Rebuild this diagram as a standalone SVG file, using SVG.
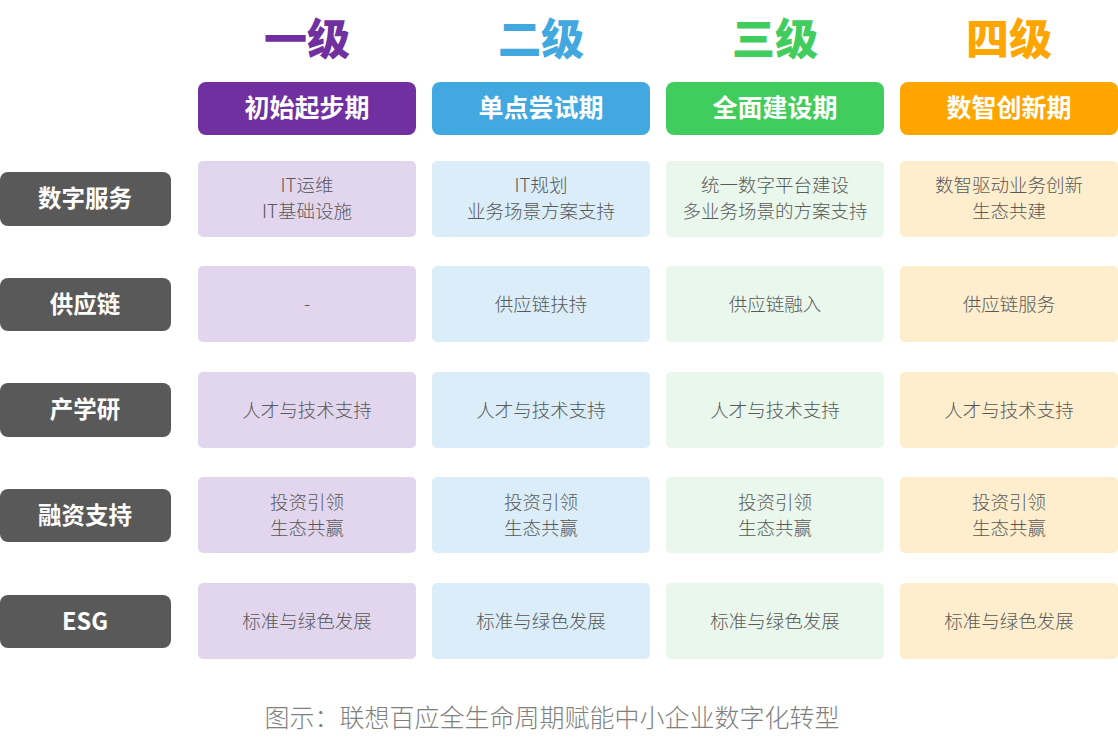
<svg xmlns="http://www.w3.org/2000/svg" width="1118" height="749" viewBox="0 0 1118 749">
<style>
.lv{font-family:"Noto Sans CJK SC","Noto Sans",sans-serif;font-weight:900;font-size:43px;text-anchor:middle}
.hd{font-family:"Noto Sans CJK SC","Noto Sans",sans-serif;font-weight:700;font-size:25px;fill:#fff;text-anchor:middle}
.lb{font-family:"Noto Sans CJK SC","Noto Sans",sans-serif;font-weight:700;font-size:23.5px;fill:#fff;text-anchor:middle}
.ct{font-family:"Noto Sans CJK SC","Noto Sans",sans-serif;font-weight:300;font-size:18.5px;fill:#595959;text-anchor:middle}
.cap{font-family:"Noto Sans CJK SC","Noto Sans",sans-serif;font-weight:300;font-size:25px;fill:#7f7f7f;text-anchor:middle}
.rl{fill:#595959}
.c1{fill:#E2D6EE}.c2{fill:#DAEDF8}.c3{fill:#EAF7EC}.c4{fill:#FFEECD}
</style>
<rect width="1118" height="749" fill="#fff"/>
<g id="levels">
<text class="lv" x="307" y="55" fill="#7030A0">一级</text>
<text class="lv" x="541" y="55" fill="#41A8E0">二级</text>
<text class="lv" x="775" y="55" fill="#41CC5E">三级</text>
<text class="lv" x="1009" y="55" fill="#FFA500">四级</text>
</g>
<g id="h1"><rect x="198" y="82" width="218" height="53" rx="8" fill="#7030A0"/><text class="hd" x="307" y="117">初始起步期</text></g>
<g id="h2"><rect x="432" y="82" width="218" height="53" rx="8" fill="#41A8E0"/><text class="hd" x="541" y="117">单点尝试期</text></g>
<g id="h3"><rect x="666" y="82" width="218" height="53" rx="8" fill="#41CC5E"/><text class="hd" x="775" y="117">全面建设期</text></g>
<g id="h4"><rect x="900" y="82" width="218" height="53" rx="8" fill="#FFA500"/><text class="hd" x="1009" y="117">数智创新期</text></g>

<g id="r1">
<rect class="rl" x="0" y="172" width="171" height="54" rx="8"/><text class="lb" x="85" y="207">数字服务</text>
<rect class="c1" x="198" y="161" width="218" height="76" rx="5"/><text class="ct" x="307" y="192">IT运维</text><text class="ct" x="307" y="218">IT基础设施</text>
<rect class="c2" x="432" y="161" width="218" height="76" rx="5"/><text class="ct" x="541" y="192">IT规划</text><text class="ct" x="541" y="218">业务场景方案支持</text>
<rect class="c3" x="666" y="161" width="218" height="76" rx="5"/><text class="ct" x="775" y="192">统一数字平台建设</text><text class="ct" x="775" y="218">多业务场景的方案支持</text>
<rect class="c4" x="900" y="161" width="218" height="76" rx="5"/><text class="ct" x="1009" y="192">数智驱动业务创新</text><text class="ct" x="1009" y="218">生态共建</text>
</g>
<g id="r2">
<rect class="rl" x="0" y="278" width="171" height="53" rx="8"/><text class="lb" x="85" y="313">供应链</text>
<rect class="c1" x="198" y="266" width="218" height="76" rx="5"/><text class="ct" x="307" y="311">-</text>
<rect class="c2" x="432" y="266" width="218" height="76" rx="5"/><text class="ct" x="541" y="311">供应链扶持</text>
<rect class="c3" x="666" y="266" width="218" height="76" rx="5"/><text class="ct" x="775" y="311">供应链融入</text>
<rect class="c4" x="900" y="266" width="218" height="76" rx="5"/><text class="ct" x="1009" y="311">供应链服务</text>
</g>
<g id="r3">
<rect class="rl" x="0" y="383" width="171" height="54" rx="8"/><text class="lb" x="85" y="418">产学研</text>
<rect class="c1" x="198" y="372" width="218" height="76" rx="5"/><text class="ct" x="307" y="417">人才与技术支持</text>
<rect class="c2" x="432" y="372" width="218" height="76" rx="5"/><text class="ct" x="541" y="417">人才与技术支持</text>
<rect class="c3" x="666" y="372" width="218" height="76" rx="5"/><text class="ct" x="775" y="417">人才与技术支持</text>
<rect class="c4" x="900" y="372" width="218" height="76" rx="5"/><text class="ct" x="1009" y="417">人才与技术支持</text>
</g>
<g id="r4">
<rect class="rl" x="0" y="489" width="171" height="53" rx="8"/><text class="lb" x="85" y="524">融资支持</text>
<rect class="c1" x="198" y="477" width="218" height="76" rx="5"/><text class="ct" x="307" y="509">投资引领</text><text class="ct" x="307" y="535">生态共赢</text>
<rect class="c2" x="432" y="477" width="218" height="76" rx="5"/><text class="ct" x="541" y="509">投资引领</text><text class="ct" x="541" y="535">生态共赢</text>
<rect class="c3" x="666" y="477" width="218" height="76" rx="5"/><text class="ct" x="775" y="509">投资引领</text><text class="ct" x="775" y="535">生态共赢</text>
<rect class="c4" x="900" y="477" width="218" height="76" rx="5"/><text class="ct" x="1009" y="509">投资引领</text><text class="ct" x="1009" y="535">生态共赢</text>
</g>
<g id="r5">
<rect class="rl" x="0" y="595" width="171" height="53" rx="8"/><text class="lb" x="85" y="630">ESG</text>
<rect class="c1" x="198" y="583" width="218" height="76" rx="5"/><text class="ct" x="307" y="628">标准与绿色发展</text>
<rect class="c2" x="432" y="583" width="218" height="76" rx="5"/><text class="ct" x="541" y="628">标准与绿色发展</text>
<rect class="c3" x="666" y="583" width="218" height="76" rx="5"/><text class="ct" x="775" y="628">标准与绿色发展</text>
<rect class="c4" x="900" y="583" width="218" height="76" rx="5"/><text class="ct" x="1009" y="628">标准与绿色发展</text>
</g>
<g id="connectors"></g>
<text class="cap" x="552" y="727">图示：联想百应全生命周期赋能中小企业数字化转型</text>
</svg>
